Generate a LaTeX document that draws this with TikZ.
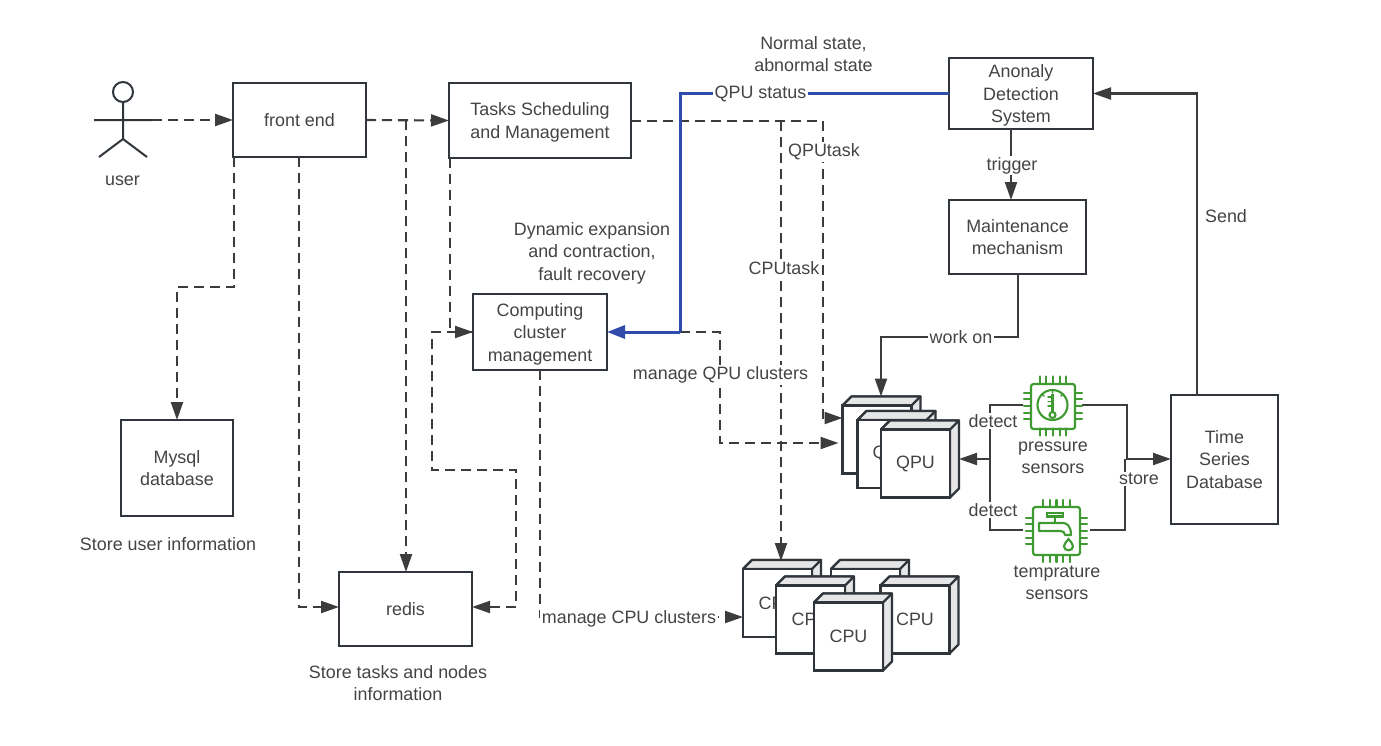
\documentclass[tikz,border=0pt]{standalone}
\usepackage{fontspec}
\setmainfont{Liberation Sans}
\usetikzlibrary{arrows.meta,calc}
\definecolor{ink}{HTML}{2F353B}
\definecolor{txt}{HTML}{444444}
\definecolor{flow}{HTML}{3C3C3C}
\definecolor{blueflow}{HTML}{2F4BAB}
\definecolor{chipgreen}{HTML}{3F9A32}
\definecolor{face}{HTML}{E6E6E6}
\tikzset{
  x=1pt,y=-1pt,
  box/.style={draw=ink,line width=2.2pt,fill=white,align=center,text=txt,inner sep=0pt,outer sep=0pt,
    font=\fontsize{17.9}{22.4}\selectfont},
  lab/.style={text=txt,align=center,inner sep=1.5pt,font=\fontsize{17.9}{22.4}\selectfont},
  onl/.style={lab,fill=white},
  flowline/.style={draw=flow,line width=2.1pt,line join=miter},
  solidarrow/.style={flowline,-{Triangle[length=18pt,width=12pt]}},
  dasharrow/.style={solidarrow,dash pattern=on 10pt off 6pt},
  dashline/.style={flowline,dash pattern=on 10pt off 6pt},
  bluearrow/.style={draw=blueflow,line width=3pt,-{Triangle[length=18pt,width=13pt]}},
  blueline/.style={draw=blueflow,line width=3pt},
  unitside/.style={draw=ink,line width=2.2pt,fill=face,line join=round},
  chip/.style={draw=chipgreen,line width=2.2pt,fill=white,rounded corners=2.5pt,inner sep=0pt,outer sep=0pt},
  pin/.style={draw=chipgreen,line width=2.1pt,line cap=round},
  glyph/.style={draw=chipgreen,line width=2.1pt},
}
\newcommand{\hwunit}[4]{%
  \path[unitside] (#2-34.5,#3-34) -- ++(9,-9) -- ++(69,0) -- ++(0,68) -- ++(-9,9) -- ++(0,-68) -- cycle;
  \draw[unitside] (#2-34.5,#3-34) -- ++(9,-9) -- ++(69,0) -- ++(-9,9) -- cycle;
  \node[box,minimum width=69pt,minimum height=68pt] (#1) at (#2,#3) {#4};
}
\newcommand{\chippins}[4]{% cx cy halfw halfh
  \foreach \d in {-13.2,-6.6,0,6.6,13.2} {
    \draw[pin] (#1+\d,#2-#4) -- ++(0,-7);
    \draw[pin] (#1+\d,#2+#4) -- ++(0,7);
    \draw[pin] (#1-#3,#2+\d) -- ++(-7,0);
    \draw[pin] (#1+#3,#2+\d) -- ++(7,0);
  }
}
\begin{document}
\begin{tikzpicture}
\useasboundingbox[fill=white] (0,0) rectangle (1381,745);

% boxes
\node[box,minimum width=133pt,minimum height=74pt] (front) at (299.5,120) {front end};
\node[box,minimum width=182pt,minimum height=75pt] (tasks) at (540,120.5) {\rule{0pt}{17pt}Tasks Scheduling\\and Management};
\node[box,minimum width=144pt,minimum height=71pt] (anomaly) at (1021,93.5) {\rule{0pt}{17pt}Anonaly\\Detection\\System};
\node[box,minimum width=137pt,minimum height=74pt] (maint) at (1017.5,237) {Maintenance\\mechanism};
\node[box,minimum width=134pt,minimum height=76pt] (comp) at (540,332) {\rule{0pt}{17pt}Computing\\cluster\\management};
\node[box,minimum width=112pt,minimum height=96pt] (mysql) at (177,468) {Mysql\\database};
\node[box,minimum width=133pt,minimum height=74pt] (redis) at (405.5,609) {redis};
\node[box,minimum width=107pt,minimum height=129pt] (tsdb) at (1224.5,459.5) {Time\\Series\\Database};

% actor
\draw[ink,line width=2pt] (123,92) circle (10);
\coordinate (hand) at (152,120);
\draw[ink,line width=2pt] (123,102) -- (123,139) (94,120) -- (hand) (99,157) -- (123,139) -- (147,157);
\node[lab] (userlab) at (122.5,181) {user};

% hardware
\hwunit{qpuA}{877}{439.5}{}
\hwunit{qpuB}{892}{454}{Q\hspace{24.9pt}}
\hwunit{qpuC}{915.5}{463.5}{QPU}
\hwunit{cpuA}{777.5}{603}{CPU}
\hwunit{cpuB}{865.5}{603}{}
\hwunit{cpuC}{810.5}{619.5}{CPU}
\hwunit{cpuD}{915}{619.5}{CPU}
\hwunit{cpuE}{848.5}{636.5}{CPU}

% junctions
\coordinate (jfe) at (406,120);
\coordinate (ja) at (234,287);
\coordinate (jb) at (177,287);
\coordinate (jc) at (299,607);
\coordinate (jloop1) at (432,332);
\coordinate (jloop2) at (432,470);
\coordinate (jloop3) at (516,470);
\coordinate (jloop4) at (516,607);
\coordinate (jblue) at (680,332);
\coordinate (jblue2) at (680,93.5);
\coordinate (jmq1) at (720,332);
\coordinate (jmq2) at (720,443);
\coordinate (jq1) at (823,121);
\coordinate (jq2) at (823,418);
\coordinate (jc1) at (781,121);
\coordinate (jcm) at (540,617);
\coordinate (jm1) at (1018,337);
\coordinate (jm2) at (881,337);
\coordinate (js1) at (1197,93.5);
\coordinate (jp1) at (1023,405);
\coordinate (jp2) at (1082,405);
\coordinate (jp3) at (1127,405);
\coordinate (jt1) at (1023,530);
\coordinate (jt2) at (1090,530);
\coordinate (jt3) at (1125,530);
\coordinate (jd1) at (990,405);
\coordinate (jd2) at (990,530);
\coordinate (jd3) at (990,459);
\coordinate (js2) at (1127,459);

% dashed connectors
\draw[dasharrow] (hand) -- (front.west);
\draw[dasharrow] (front.east) -- (tasks.west);
\draw[dasharrow] (jfe) -- (jfe |- redis.north);
\draw[dasharrow] (front.south west -| ja) -- (ja) -- (jb) -- (mysql.north);
\draw[dasharrow] (front.south -| jc) -- (jc) -- (jc -| redis.west);
\draw[dasharrow] ([xshift=1pt]tasks.south west) -- ($(tasks.west |- comp.west)+(1,0)$) -- (comp.west);
\draw[dasharrow] (comp.west) -- (jloop1) -- (jloop2) -- (jloop3) -- (jloop4) -- (jloop4 -| redis.east);
\draw[dasharrow] (comp.south) -- (jcm) -- (jcm -| cpuA.west);
\draw[dasharrow] (jblue) -- (jmq1) -- (jmq2) -- ($(qpuA.west |- jmq2)+(-4,0)$);
\draw[dashline] (tasks.east |- jq1) -- (jq1);
\draw[dasharrow] (jq1) -- (jq2) -- (jq2 -| qpuA.west);
\draw[dasharrow] (jc1) -- ($(jc1 |- cpuA.north)+(0,-8)$);

% solid connectors
\draw[solidarrow] ([xshift=-10pt]anomaly.south) -- ([xshift=-6.5pt]maint.north);
\draw[solidarrow] (maint.south -| jm1) -- (jm1) -- (jm2) -- ($(jm2 |- qpuA.north)+(0,-9)$);
\draw[solidarrow] (tsdb.north -| js1) -- (js1) -- (anomaly.east);
\draw[solidarrow] (jp2) -- (jp3) -- (js2) -- (tsdb.west |- js2);
\draw[flowline] (jt2) -- (jt3) -- (jt3 |- js2);
\draw[flowline] (jp1) -- (jd1) -- (jd2) -- (jt1);
\draw[solidarrow] (jd3) -- ($(qpuC.east |- jd3)+(9,0)$);

% blue
\draw[blueline] (anomaly.west) -- (jblue2) -- (jblue);
\draw[bluearrow] (jblue) -- (comp.east);

% sensors
\node[chip,minimum width=44pt,minimum height=45pt] (psens) at (1053,406.5) {};
\chippins{1053}{406}{22}{22.5}
\draw[glyph] (1052.5,405) circle (15);
\draw[glyph] (1052.5,394) -- (1052.5,412);
\draw[glyph,fill=white] (1052.5,415) circle (3);
\draw[pin,line width=1.5pt] (1048,397) -- (1052,397) (1048,401.5) -- (1052,401.5) (1048,406) -- (1052,406);
\draw[pin,line width=1.5pt] (1052.5,390) -- (1052.5,393) (1042,394) -- (1044,396) (1063,394) -- (1061,396);
\node[chip,minimum width=47pt,minimum height=48pt] (tsens) at (1056.5,531) {};
\chippins{1056.5}{531}{23.5}{24}
\draw[glyph] (1047,513) rectangle (1063,516.5);
\draw[glyph] (1055,516.5) -- (1055,523);
\draw[glyph,line join=round] (1039,523) -- (1063,523) .. controls (1067,523) and (1071,526) .. (1071,535) -- (1065,535) .. controls (1065,532) and (1063,531) .. (1060,531) -- (1039,531) -- cycle;
\draw[glyph] (1068.5,539) .. controls (1065,543) and (1064,545) .. (1064,546.5) .. controls (1064,551.5) and (1073,551.5) .. (1073,546.5) .. controls (1073,545) and (1072,543) .. (1068.5,539) -- cycle;

% labels
\node[lab] (l1) at (813.5,54) {Normal state,\\abnormal state};
\node[onl] (l2) at (760.5,94) {QPU status};
\node[onl] (l3) at (824,152) {QPUtask};
\node[onl] (l4) at (784,268) {CPUtask};
\node[onl] (l5) at (1012,165.5) {trigger};
\node[onl] (l6) at (1226,216) {Send};
\node[onl] (l7) at (961,337) {work on};
\node[lab] (l8) at (592,253) {Dynamic expansion\\and contraction,\\fault recovery};
\node[onl] (l9) at (720.5,375) {manage QPU clusters};
\node[onl] (l10) at (629,619) {manage CPU clusters};
\node[onl] (l11) at (993,421) {detect};
\node[onl] (l12) at (993,510) {detect};
\node[onl] (l13) at (1139,479) {store};
\node[lab] (l14) at (1053,458) {pressure\\sensors};
\node[lab] (l15) at (1057,583) {temprature\\sensors};
\node[lab] (l16) at (168,544) {Store user information};
\node[lab] (l17) at (398,683) {Store tasks and nodes\\information};
\end{tikzpicture}
\end{document}
